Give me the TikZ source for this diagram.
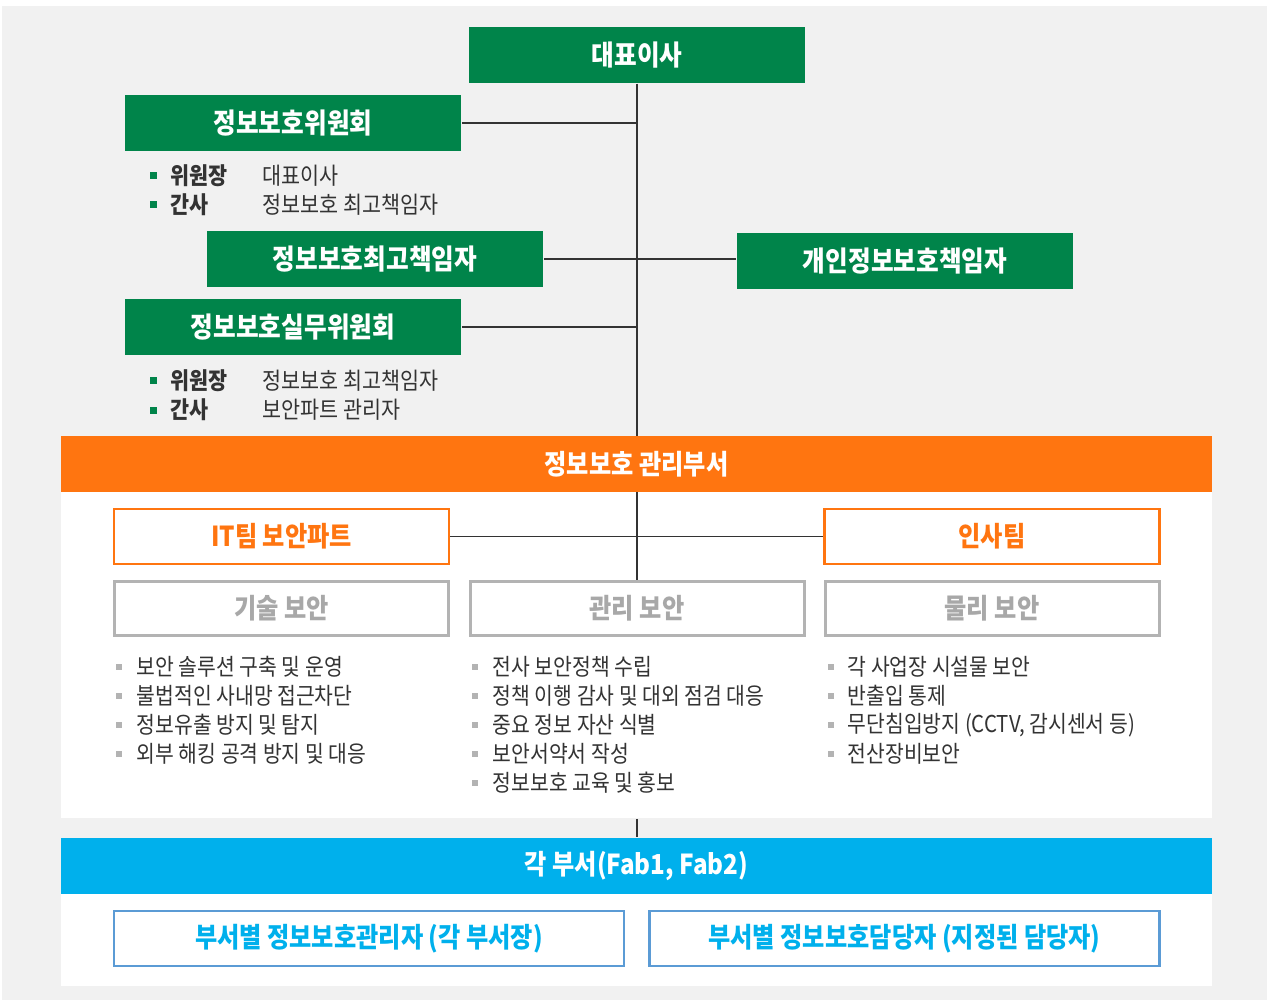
\documentclass[tikz,border=0pt]{standalone}
\usepackage{fontspec}
\setmainfont{Noto Sans CJK KR}[FakeStretch=0.88]
\definecolor{kgreen}{HTML}{00844A}
\definecolor{korange}{HTML}{FF7510}
\definecolor{kcyan}{HTML}{00B0EC}
\definecolor{kblue}{HTML}{5B9BD5}
\definecolor{bggray}{HTML}{F1F1F1}
\definecolor{boxgray}{HTML}{B3B3B3}
\definecolor{txtgray}{HTML}{A8A8A8}
\definecolor{txtdark}{HTML}{333333}

\begin{document}
\begin{tikzpicture}[x=1pt, y=-1pt, line width=1.5pt,
    greenbox/.style={fill=kgreen, text=white, minimum width=336pt, minimum height=56pt, inner sep=0pt,
        font=\bfseries\fontsize{28}{30}\selectfont},
    bandbox/.style={fill=#1, text=white, minimum width=1151pt, minimum height=56pt, inner sep=0pt,
        font=\bfseries\fontsize{27.5}{30}\selectfont},
    teambox/.style={draw=korange, line width=2.5pt, fill=white, text=korange, minimum width=335pt, minimum height=55pt,
        inner sep=0pt, font=\bfseries\fontsize{27.5}{30}\selectfont},
    areabox/.style={draw=boxgray, line width=3pt, fill=white, text=txtgray, minimum width=334pt, minimum height=54pt,
        inner sep=0pt, font=\bfseries\fontsize{27.5}{30}\selectfont},
    deptbox/.style={draw=kblue, line width=2.5pt, fill=white, text=kcyan, minimum width=510pt, minimum height=55pt,
        inner sep=0pt, font=\bfseries\fontsize{27.5}{30}\selectfont},
    panel/.style={fill=white, minimum width=1151pt, inner sep=0pt},
    link/.style={draw=txtdark, line width=1.5pt},
    keytext/.style={anchor=west, text=txtdark, inner sep=0pt, font=\bfseries\fontsize{23.5}{26}\selectfont},
    valtext/.style={anchor=west, text=txtdark, inner sep=0pt, font=\fontsize{23.5}{26}\selectfont},
    itemtext/.style={anchor=west, text=txtdark, inner sep=0pt, font=\fontsize{23.2}{26}\selectfont},
    gbullet/.style={fill=kgreen, minimum size=7pt, inner sep=0pt},
    sbullet/.style={fill=boxgray, minimum size=6pt, inner sep=0pt}]

    \useasboundingbox (0,0) rectangle (1267,1000);
    % draw gray background
    \fill[bggray] (2,6) rectangle (1267,1000);

    % draw white panels
    \node[panel, minimum height=326pt] (panelA) at (636.5,655) {};
    \node[panel, minimum height=92pt] (panelB) at (636.5,940) {};

    % draw the green boxes at the top
    \node[greenbox] (ceo)   at (637,55)  {대표이사};
    \node[greenbox] (board) at (293,123) {정보보호위원회};
    \node[greenbox] (ciso)  at (375,259) {정보보호최고책임자};
    \node[greenbox] (cpo)   at (905,261) {개인정보보호책임자};
    \node[greenbox] (work)  at (293,327) {정보보호실무위원회};

    % draw the area boxes
    \node[areabox] (tech) at (281.5,608.5) {기술 보안};
    \node[areabox] (mgmt) at (637,608.5)   {관리 보안};
    \node[areabox] (phys) at (992,608.5)   {물리 보안};

    % draw the spine and branches
    \draw[link] (ceo.south) -- (mgmt.north);
    \draw[link] (board.east) -- (board.east -| ceo.south);
    \draw[link] (ciso.east) -- (ciso.east -| cpo.west);
    \draw[link] (work.east) -- (work.east -| ceo.south);

    % draw committee members
    \node[gbullet] (b1) at (153,176) {};
    \node[keytext] (k1) at (170,176) {위원장};
    \node[valtext] (v1) at (262,176) {대표이사};
    \node[gbullet] (b2) at (153,205) {};
    \node[keytext] (k2) at (170,205) {간사};
    \node[valtext] (v2) at (262,205) {정보보호 최고책임자};
    \node[gbullet] (b3) at (153,381) {};
    \node[keytext] (k3) at (170,381) {위원장};
    \node[valtext] (v3) at (262,381) {정보보호 최고책임자};
    \node[gbullet] (b4) at (153,410) {};
    \node[keytext] (k4) at (170,410) {간사};
    \node[valtext] (v4) at (262,410) {보안파트 관리자};

    % draw the department band and teams
    \node[bandbox=korange] (secdept) at (636.5,464) {정보보호 관리부서};
    \node[teambox] (itpart) at (281.5,536.5) {IT팀 보안파트};
    \node[teambox] (hr)     at (992,536.5)   {인사팀};
    \draw[link] (itpart.east) -- (hr.west);

    % draw the task lists
    \foreach \txt [count=\i] in {보안 솔루션 구축 및 운영, 불법적인 사내망 접근차단,
            정보유출 방지 및 탐지, 외부 해킹 공격 방지 및 대응} {
        \node[sbullet] (tb\i) at (119,{638+29*\i}) {};
        \node[itemtext] (ti\i) at (136,{638+29*\i}) {\txt};
    }
    \foreach \txt [count=\i] in {전사 보안정책 수립, 정책 이행 감사 및 대외 점검 대응,
            중요 정보 자산 식별, 보안서약서 작성, 정보보호 교육 및 홍보} {
        \node[sbullet] (mb\i) at (475,{638+29*\i}) {};
        \node[itemtext] (mi\i) at (492,{638+29*\i}) {\txt};
    }
    \foreach \txt [count=\i] in {각 사업장 시설물 보안, 반출입 통제,
            {무단침입방지 (CCTV, 감시센서 등)}, 전산장비보안} {
        \node[sbullet] (pb\i) at (831,{638+29*\i}) {};
        \node[itemtext] (pi\i) at (847,{638+29*\i}) {\txt};
    }

    % draw each department
    \node[bandbox=kcyan] (dept) at (636.5,866) {각 부서(Fab1, Fab2)};
    \draw[link] (panelA.south -| ceo.south) -- (dept.north -| ceo.south);
    \node[deptbox] (mgr)   at (369,938.5)   {부서별 정보보호관리자 (각 부서장)};
    \node[deptbox] (staff) at (904.5,938.5) {부서별 정보보호담당자 (지정된 담당자)};
\end{tikzpicture}
\end{document}
